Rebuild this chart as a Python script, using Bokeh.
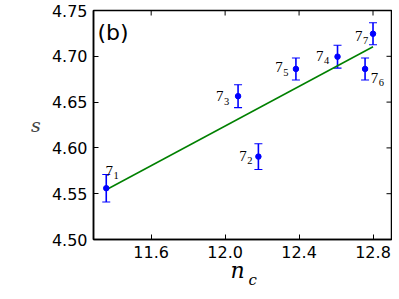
from bokeh.plotting import figure
from bokeh.models import (ColumnDataSource, Whisker, TeeHead, FixedTicker,
                          Label, Range1d, NumeralTickFormatter, Title)
from bokeh.core.properties import value
from bokeh.embed import file_html
from bokeh.resources import INLINE

# data
nc = [11.357, 12.18, 12.07, 12.608, 12.383, 12.757, 12.80]
s = [4.556, 4.5905, 4.6565, 4.6996, 4.6862, 4.6862, 4.7246]
err = [0.015, 0.014, 0.0125, 0.0125, 0.012, 0.012, 0.012]
labels = ["1", "2", "3", "4", "5", "6", "7"]
fit_x = [11.357, 12.80]
fit_y = [4.5543, 4.7104]
x_ticks = [11.6, 12.0, 12.4, 12.8]
y_ticks = [4.50, 4.55, 4.60, 4.65, 4.70, 4.75]

# label placement (screen px relative to each point): right edge of "7", baseline
lab_dx = [6.7, -11.6, -14.6, -14.0, -13.3, 13.3, -10.6]
lab_dy = [-17.7, -0.7, 0.0, -1.0, -1.6, 9.0, 2.0]

xr = Range1d(11.288, 12.9)
yr = Range1d(4.50, 4.75)
p = figure(width=392, height=291, output_backend="svg", toolbar_location=None,
           x_range=xr, y_range=yr,
           min_border_left=93, min_border_right=1, min_border_top=10, min_border_bottom=52)
p.grid.visible = False
p.outline_line_color = "black"
p.outline_line_width = 1.5
p.background_fill_color = "white"
p.border_fill_color = "white"

for ax in (p.xaxis[0], p.yaxis[0]):
    ax.major_tick_in = 5
    ax.major_tick_out = 0
    ax.minor_tick_in = 0
    ax.minor_tick_out = 0
    ax.axis_line_width = 1.5
    ax.major_label_text_font = "DejaVu Sans"
    ax.major_label_text_font_size = "16px"
    ax.major_label_text_color = "black"
p.xaxis[0].ticker = FixedTicker(ticks=x_ticks)
p.yaxis[0].ticker = FixedTicker(ticks=y_ticks)
p.xaxis[0].formatter = NumeralTickFormatter(format="0.0")
p.yaxis[0].formatter = NumeralTickFormatter(format="0.00")
p.xaxis[0].major_label_standoff = 6
p.yaxis[0].major_label_standoff = 6

# y axis label
p.yaxis[0].axis_label = "s"
p.yaxis[0].axis_label_orientation = "horizontal"
p.yaxis[0].axis_label_standoff = 8
p.yaxis[0].axis_label_text_font = "DejaVu Serif"
p.yaxis[0].axis_label_text_font_style = "italic"
p.yaxis[0].axis_label_text_font_size = "19px"

# x axis label n_c as two titles below the axis
tn = Title(text="n", align="left", offset=137, vertical_align="top", standoff=-6,
           text_font="DejaVu Serif", text_font_style="italic", text_font_size="22px",
           text_color="black")
tc = Title(text="c", align="left", offset=155, vertical_align="top", standoff=-22,
           text_font="DejaVu Serif", text_font_style="italic", text_font_size="15px",
           text_color="black")
p.add_layout(tn, "below")
p.add_layout(tc, "below")

# ticks on the top and right edges (inward)
p.ray(x=x_ticks, y=[yr.end] * len(x_ticks), length=5, length_units="screen",
      angle=-90, angle_units="deg", line_color="black", line_width=1)
p.ray(x=[xr.end] * len(y_ticks), y=y_ticks, length=5, length_units="screen",
      angle=180, angle_units="deg", line_color="black", line_width=1)

# fit line
p.line(fit_x, fit_y, line_color="#008000", line_width=1.5)

# error bars
lo = [a - b for a, b in zip(s, err)]
hi = [a + b for a, b in zip(s, err)]
src = ColumnDataSource(dict(x=nc, y=s, lo=lo, hi=hi))
w = Whisker(base="x", lower="lo", upper="hi", source=src, dimension="height",
            line_color="#0000ff", line_width=1.6,
            lower_head=TeeHead(size=8, line_color="#0000ff", line_width=1.1),
            upper_head=TeeHead(size=8, line_color="#0000ff", line_width=1.1))
p.add_layout(w)
p.scatter(x="x", y="y", source=src, size=5.5, fill_color="#0000ff", line_color="#0000ff")

# point labels "7" with subscripts
msrc = ColumnDataSource(dict(x=nc, y=s, t=["7"] * len(nc), st=labels,
                             xo=lab_dx, yo=lab_dy,
                             sxo=[d + 0.5 for d in lab_dx], syo=[d + 5 for d in lab_dy]))
p.text(x="x", y="y", text="t", x_offset="xo", y_offset="yo", source=msrc,
       text_font=value("Liberation Serif"), text_font_size="15px", text_color="black",
       text_align="right", text_baseline="alphabetic")
p.text(x="x", y="y", text="st", x_offset="sxo", y_offset="syo", source=msrc,
       text_font=value("Liberation Serif"), text_font_size="10.5px", text_color="black",
       text_align="left", text_baseline="alphabetic")

# panel tag
p.add_layout(Label(x=4, y=207, x_units="screen", y_units="screen", text="(b)",
                   text_font="DejaVu Sans", text_font_size="22px",
                   text_baseline="alphabetic", text_align="left", text_color="black"))

open("out.html", "w").write(file_html(p, INLINE))
